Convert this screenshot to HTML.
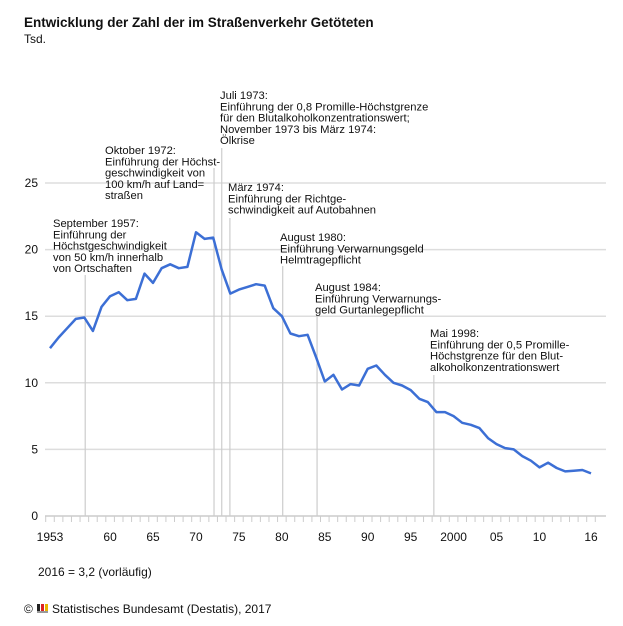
<!DOCTYPE html>
<html><head><meta charset="utf-8">
<style>
body{margin:0;background:#fff;font-family:"Liberation Sans",sans-serif;}
svg{display:block}
text{font-family:"Liberation Sans",sans-serif;fill:#111;}
</style></head>
<body>
<svg id="chart" width="623" height="626">
<text x="24" y="27" font-size="13.5" font-weight="bold">Entwicklung der Zahl der im Straßenverkehr Getöteten</text>
<text x="24" y="43" font-size="12">Tsd.</text>
<g id="grid"></g><g id="ann"></g><g id="axis"></g>
<path id="line" fill="none" stroke="#3c6fd5" stroke-width="2.5" stroke-linejoin="round"/>
<text x="38" y="576" font-size="12">2016 = 3,2 (vorläufig)</text>
<text x="24" y="613" font-size="12">©</text>
<g><rect x="37" y="604" width="3" height="8" fill="#222"/><rect x="41" y="604" width="3" height="8" fill="#d22"/><rect x="45" y="604" width="3" height="8" fill="#e8b400"/><rect x="37" y="611" width="11" height="2" fill="#999"/></g>
<text x="52" y="613" font-size="12">Statistisches Bundesamt (Destatis), 2017</text>
</svg>
<script>
const years=[];for(let y=1953;y<=2016;y++)years.push(y);
const values=[12.6,13.4,14.1,14.8,14.9,13.9,15.7,16.5,16.8,16.2,16.3,18.2,17.5,18.6,18.9,18.6,18.7,21.3,20.8,20.9,18.5,16.7,17.0,17.2,17.4,17.3,15.6,15.0,13.7,13.5,13.6,11.9,10.1,10.6,9.5,9.9,9.8,11.05,11.3,10.6,10.0,9.8,9.45,8.8,8.55,7.8,7.8,7.5,7.0,6.85,6.6,5.85,5.4,5.1,5.0,4.5,4.15,3.65,4.0,3.6,3.35,3.4,3.45,3.2];
const yTicks=[0,5,10,15,20,25];
const xLabelYears=[1953,1960,1965,1970,1975,1980,1985,1990,1995,2000,2005,2010,2016];
const xLabelText=["1953","60","65","70","75","80","85","90","95","2000","05","10","16"];
const annYears=[1957.1,1972.1,1973.0,1973.95,1980.1,1984.1,1997.7];
const annTexts=[
["September 1957:","Einführung der","Höchstgeschwindigkeit","von 50 km/h innerhalb","von Ortschaften"],
["Oktober 1972:","Einführung der Höchst-","geschwindigkeit von","100 km/h auf Land=","straßen"],
["Juli 1973:","Einführung der 0,8 Promille-Höchstgrenze","für den Blutalkoholkonzentrationswert;","November 1973 bis März 1974:","Ölkrise"],
["März 1974:","Einführung der Richtge-","schwindigkeit auf Autobahnen"],
["August 1980:","Einführung Verwarnungsgeld","Helmtragepflicht"],
["August 1984:","Einführung Verwarnungs-","geld Gurtanlegepflicht"],
["Mai 1998:","Einführung der 0,5 Promille-","Höchstgrenze für den Blut-","alkoholkonzentrationswert"]];
const annTextX=[53,105,220,228,280,315,430];
const annTextY=[227,154,99,191,241,291,337];
const annLineTop=[275,168,148,218,266,315,375];
const NS="http://www.w3.org/2000/svg";
const X=y=>50+(y-1953)*(541/63);
const Y=v=>516-v*(333/25);
function mk(tag,attrs,parent){const e=document.createElementNS(NS,tag);for(const k in attrs)e.setAttribute(k,attrs[k]);document.getElementById(parent).appendChild(e);return e;}
yTicks.forEach(t=>{
 const l=mk('line',{x1:45,x2:606,y1:Y(t),y2:Y(t),stroke:t?'#ddd':'#ccc','stroke-width':1.5},'grid');
 
 
 const tx=mk('text',{x:38,y:Y(t)+4,'font-size':12,'text-anchor':'end'},'axis');tx.textContent=t;
 
 
});
for(let i=0;i<=years.length;i++){
 const x=X(1953+i)-4.3;
 const t=mk('line',{x1:x,x2:x,y1:516,y2:522,stroke:'#ccc'},'axis');
 
 
}
xLabelYears.forEach((y,i)=>{
 const t=mk('text',{x:X(y),y:541,'font-size':12,'text-anchor':'middle'},'axis');t.textContent=xLabelText[i];
 
 
});
annYears.forEach((y,i)=>{
 const l=mk('line',{x1:X(y),x2:X(y),y1:annLineTop[i],y2:516,stroke:'#ccc','stroke-width':1.2},'ann');
 
 
 const t=mk('text',{x:annTextX[i],y:annTextY[i],'font-size':11.2},'ann');
 
 
 annTexts[i].forEach((s,j)=>{const ts=document.createElementNS(NS,'tspan');ts.setAttribute('x',annTextX[i]);ts.setAttribute('dy',j?11.3:0);ts.textContent=s;t.appendChild(ts);});
});
document.getElementById('line').setAttribute('d',values.map((v,i)=>(i?'L':'M')+X(years[i]).toFixed(1)+','+Y(v).toFixed(1)).join(''));
</script>
</body></html>
